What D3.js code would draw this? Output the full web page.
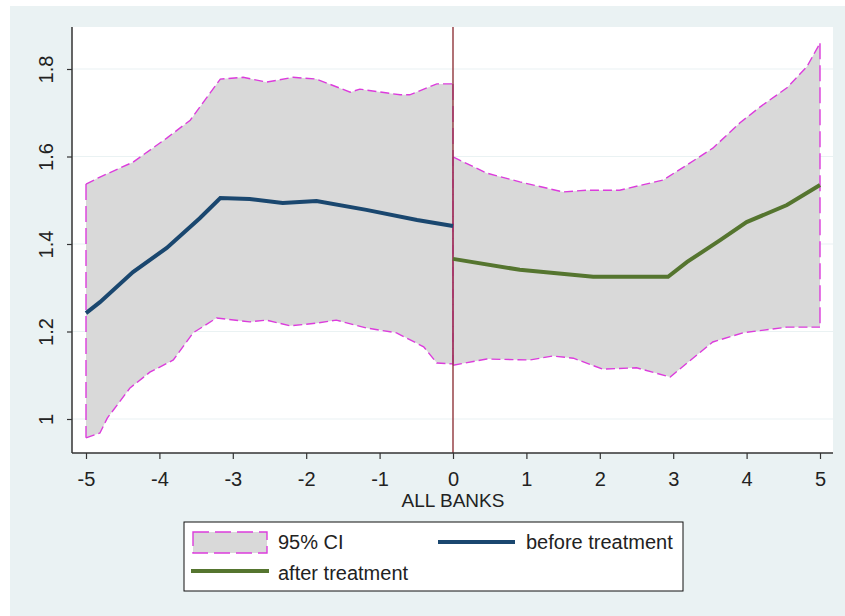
<!DOCTYPE html>
<html lang="en">
<head>
<meta charset="UTF-8">
<script src="https://d3js.org/d3.v7.min.js"></script>
<title>All banks</title>
<style>
  body { margin: 0; background: #fff; }
  text { font-family: "Liberation Sans", Arial, sans-serif; fill: #222; }
</style>
</head>
<body>
<svg id="mainsvg" width="845" height="616"></svg>
<script>
// data: [x, value]
const yTicks = [1, 1.2, 1.4, 1.6, 1.8]
const xTicks = [-5, -4, -3, -2, -1, 0, 1, 2, 3, 4, 5]
const xTitle = 'ALL BANKS'

const ciUpperPre = [[-5, 1.537], [-4.81, 1.553], [-4.36, 1.587], [-3.9, 1.642], [-3.58, 1.683], [-3.17, 1.777],
  [-2.86, 1.781], [-2.54, 1.77], [-2.18, 1.781], [-1.86, 1.777], [-1.4, 1.747], [-1.27, 1.754],
  [-0.72, 1.741], [-0.59, 1.741], [-0.22, 1.766], [0, 1.766]]
const ciLowerPre = [[-5, 0.957], [-4.81, 0.968], [-4.71, 1.002], [-4.4, 1.071], [-4.13, 1.107], [-3.81, 1.135],
  [-3.54, 1.197], [-3.22, 1.231], [-2.77, 1.222], [-2.54, 1.226], [-2.22, 1.213], [-1.86, 1.219],
  [-1.59, 1.226], [-1.18, 1.208], [-0.77, 1.197], [-0.4, 1.165], [-0.22, 1.128], [0, 1.126]]
const ciUpperPost = [[0, 1.599], [0.46, 1.562], [0.91, 1.542], [1.5, 1.519], [1.82, 1.523], [2.27, 1.523],
  [2.86, 1.546], [3.19, 1.581], [3.54, 1.619], [3.91, 1.677], [4.18, 1.713], [4.55, 1.757],
  [4.82, 1.805], [5, 1.859]]
const ciLowerPost = [[0, 1.123], [0.46, 1.137], [1.05, 1.135], [1.36, 1.144], [1.64, 1.139], [2.04, 1.114],
  [2.5, 1.117], [2.96, 1.096], [3.19, 1.128], [3.54, 1.176], [3.95, 1.197], [4.55, 1.21], [5, 1.21]]
const beforeLine = [[-5, 1.242], [-4.81, 1.267], [-4.36, 1.336], [-3.9, 1.391], [-3.45, 1.459], [-3.17, 1.505],
  [-2.77, 1.503], [-2.32, 1.494], [-1.86, 1.498], [-1.18, 1.478], [-0.49, 1.455], [0, 1.441]]
const afterLine = [[0, 1.366], [0.91, 1.341], [1.91, 1.325], [2.93, 1.325], [3.19, 1.359], [3.64, 1.409],
  [4.0, 1.45], [4.55, 1.489], [5, 1.535]]
const legendItems = ['95% CI', 'before treatment', 'after treatment']

const svg = d3.select('#mainsvg')
const plot = { left: 72, top: 27, right: 833, bottom: 453 }
const fs = 20

const colBg = '#eaf2f3'
const colFill = '#d9d9d9'
const colCI = '#dc3cdc'
const colBefore = '#1a476f'
const colAfter = '#55752f'
const colVline = '#90353b'

// outer graph region + plot region
svg.append('rect').attr('x', 10).attr('y', 6).attr('width', 835).attr('height', 610).attr('fill', colBg)
svg.append('rect').attr('x', plot.left).attr('y', plot.top)
  .attr('width', plot.right - plot.left).attr('height', plot.bottom - plot.top).attr('fill', '#fff')

const xScale = d3.scaleLinear().domain([-5, 5]).range([86, 820])
const yScale = d3.scaleLinear().domain([1, 1.8]).range([419, 69])
const fmt = d => String(d)

// grid
svg.append('g').selectAll('line').data(yTicks).join('line')
  .attr('x1', plot.left).attr('x2', plot.right)
  .attr('y1', d => yScale(d)).attr('y2', d => yScale(d))
  .attr('stroke', colBg).attr('stroke-width', 1.2)

const line = d3.line().x(d => xScale(d[0])).y(d => yScale(d[1]))

// CI bands: fill, then dashed outline
const bands = [[ciUpperPre, ciLowerPre], [ciUpperPost, ciLowerPost]]
bands.forEach(([up, lo]) => {
  const poly = up.concat(lo.slice().reverse())
  svg.append('path').attr('d', line(poly) + 'Z').attr('fill', colFill).attr('stroke', 'none')
})
bands.forEach(([up, lo]) => {
  const g = svg.append('g').attr('fill', 'none').attr('stroke', colCI).attr('stroke-width', 1.4)
  g.append('path').attr('d', line(up)).attr('stroke-dasharray', '9,4')
  g.append('path').attr('d', line(lo)).attr('stroke-dasharray', '9,4')
  const a = [up[0], lo[0]], b = [up[up.length - 1], lo[lo.length - 1]]
  g.append('path').attr('d', line(a)).attr('stroke-dasharray', '16,6')
  g.append('path').attr('d', line(b)).attr('stroke-dasharray', '16,6')
})

// treatment line at x = 0
svg.append('line').attr('x1', xScale(0)).attr('x2', xScale(0))
  .attr('y1', plot.top).attr('y2', plot.bottom)
  .attr('stroke', colVline).attr('stroke-width', 1.4)

// estimate lines
svg.append('path').attr('d', line(beforeLine)).attr('fill', 'none')
  .attr('stroke', colBefore).attr('stroke-width', 4)
svg.append('path').attr('d', line(afterLine)).attr('fill', 'none')
  .attr('stroke', colAfter).attr('stroke-width', 4)

// axes
const yAxis = svg.append('g').attr('transform', `translate(${plot.left},0)`)
  .call(d3.axisLeft(yScale).tickValues(yTicks).tickSize(5).tickFormat(fmt))
yAxis.select('.domain').attr('d', `M0,${plot.top}V${plot.bottom}`).attr('stroke', '#333').attr('stroke-width', 1.5)
yAxis.selectAll('.tick line').attr('stroke', '#333').attr('stroke-width', 1.2)
yAxis.selectAll('.tick text').remove()
yAxis.selectAll('.tick').append('text')
  .attr('transform', 'translate(-19,0) rotate(-90)')
  .attr('text-anchor', 'middle')
  .attr('font-size', fs)
  .attr('font-family', '"Liberation Sans", Arial, sans-serif')
  .attr('fill', '#222')
  .text(fmt)

const xAxis = svg.append('g').attr('transform', `translate(0,${plot.bottom})`)
  .call(d3.axisBottom(xScale).tickValues(xTicks).tickSize(6).tickFormat(fmt))
xAxis.select('.domain').attr('d', `M${plot.left},0H${plot.right}`).attr('stroke', '#333').attr('stroke-width', 1.5)
xAxis.selectAll('.tick line').attr('stroke', '#333').attr('stroke-width', 1.2)
xAxis.selectAll('.tick text').attr('font-size', fs).attr('font-family', '"Liberation Sans", Arial, sans-serif')
  .attr('fill', '#222').attr('dy', 0).attr('y', 33)

svg.append('text').attr('x', xScale(0)).attr('y', 507).attr('text-anchor', 'middle')
  .attr('font-size', 19).text(xTitle)

// legend
const lg = svg.append('g')
lg.append('rect').attr('x', 184).attr('y', 522).attr('width', 499).attr('height', 69)
  .attr('fill', '#fff').attr('stroke', '#111').attr('stroke-width', 1)
lg.append('rect').attr('x', 193).attr('y', 532).attr('width', 74).attr('height', 21)
  .attr('fill', colFill).attr('stroke', colCI).attr('stroke-width', 1.4).attr('stroke-dasharray', '16,6')
lg.append('text').attr('x', 278).attr('y', 549).attr('font-size', fs).text(legendItems[0])
lg.append('line').attr('x1', 438).attr('x2', 515).attr('y1', 542).attr('y2', 542)
  .attr('stroke', colBefore).attr('stroke-width', 4)
lg.append('text').attr('x', 526).attr('y', 549).attr('font-size', fs).text(legendItems[1])
lg.append('line').attr('x1', 191).attr('x2', 269).attr('y1', 571).attr('y2', 571)
  .attr('stroke', colAfter).attr('stroke-width', 4)
lg.append('text').attr('x', 278).attr('y', 580).attr('font-size', fs).text(legendItems[2])
</script>
</body>
</html>
